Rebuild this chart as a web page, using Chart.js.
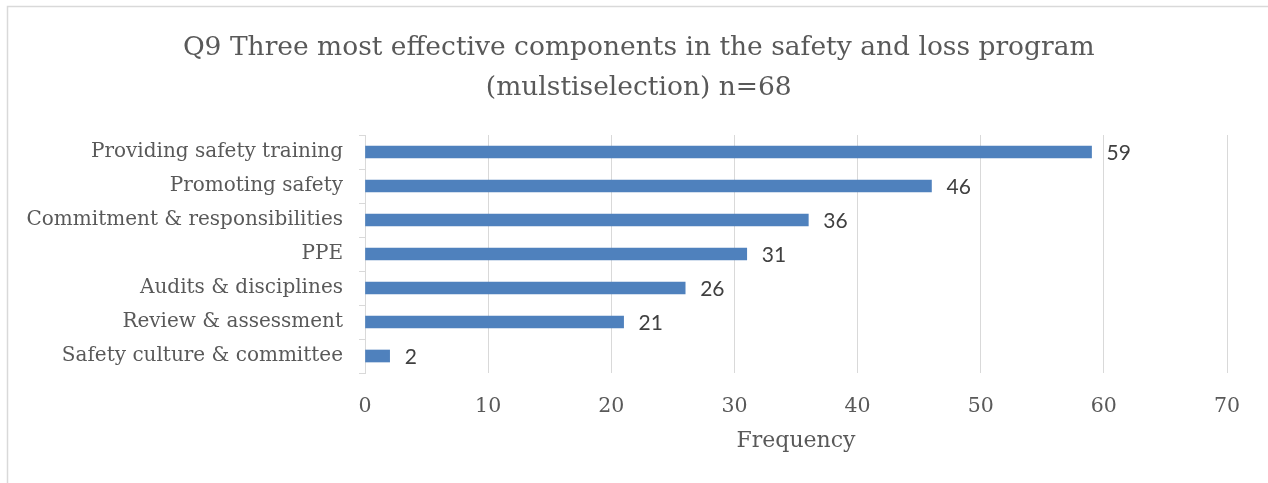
<!DOCTYPE html>
<html>
<head>
<meta charset="utf-8">
<script src="https://cdn.jsdelivr.net/npm/chart.js@4.4.1/dist/chart.umd.min.js"></script>
<style>
  html, body { margin: 0; padding: 0; background: #ffffff; }
  #wrap { width: 1268px; height: 483px; position: relative; }
</style>
</head>
<body>
<div id="wrap"><canvas id="chart" width="1268" height="483"></canvas></div>
<script>
// Survey question Q9: responses per program component
const categories = [
  'Providing safety training',
  'Promoting safety',
  'Commitment & responsibilities',
  'PPE',
  'Audits & disciplines',
  'Review & assessment',
  'Safety culture & committee'
];
const frequency = [59, 46, 36, 31, 26, 21, 2];
const xTicks = [0, 10, 20, 30, 40, 50, 60, 70];
const titleLines = [
  'Q9 Three most effective components in the safety and loss program',
  '(mulstiselection) n=68'
];
const axisTitle = 'Frequency';

const SERIF = "'DejaVu Serif', 'Liberation Serif', serif";
const SANS = "'Lato', 'Liberation Sans', sans-serif";
const TEXT = '#595959';
const GRID = '#d9d9d9';

// frame of the chart object (left and top edges visible)
const FRAME = { x: 7.5, y: 6.5 };

// light frame around the chart object
const framePlugin = {
  id: 'frame',
  beforeDraw(chart) {
    const ctx = chart.ctx;
    ctx.save();
    ctx.strokeStyle = '#d9d9d9';
    ctx.lineWidth = 1.5;
    ctx.strokeRect(FRAME.x, FRAME.y, 1400, 700);
    ctx.restore();
  }
};

// two-line title, centred on the frame rather than the plot
const titlePlugin = {
  id: 'frameTitle',
  afterDraw(chart) {
    const ctx = chart.ctx;
    const size = 26.5;
    const lineH = size * 1.5;
    const cx = (FRAME.x + chart.width) / 2 + 1;
    ctx.save();
    ctx.font = size + 'px ' + SERIF;
    ctx.fillStyle = TEXT;
    ctx.textAlign = 'center';
    ctx.textBaseline = 'middle';
    titleLines.forEach((line, i) => {
      ctx.fillText(line, cx, 28 + lineH / 2 + i * lineH);
    });
    ctx.restore();
  }
};

// value labels to the right of each bar
const valueLabels = {
  id: 'valueLabels',
  afterDatasetsDraw(chart) {
    const ctx = chart.ctx;
    const meta = chart.getDatasetMeta(0);
    ctx.save();
    ctx.font = '21px ' + SANS;
    ctx.fillStyle = '#404040';
    ctx.textAlign = 'left';
    ctx.textBaseline = 'middle';
    meta.data.forEach((bar, i) => {
      ctx.fillText(String(frequency[i]), bar.x + 15, bar.y + 1);
    });
    ctx.restore();
  }
};

new Chart(document.getElementById('chart'), {
  type: 'bar',
  data: {
    labels: categories,
    datasets: [{
      data: frequency,
      backgroundColor: '#4f81bd',
      borderWidth: 0,
      barThickness: 12
    }]
  },
  options: {
    indexAxis: 'y',
    responsive: false,
    animation: false,
    layout: { padding: { left: 0, right: 41, top: 135, bottom: 0 } },
    plugins: {
      legend: { display: false },
      tooltip: { enabled: false },
      title: { display: false }
    },
    scales: {
      x: {
        type: 'linear',
        min: 0,
        max: 70,
        afterBuildTicks(scale) { scale.ticks = xTicks.map(v => ({ value: v })); },
        afterFit(scale) { scale.height = 110; },
        grid: { color: GRID, lineWidth: 1, drawTicks: false },
        border: { display: false },
        ticks: {
          color: TEXT,
          padding: 21,
          font: { family: SERIF, size: 20.5 }
        },
        title: {
          display: true,
          text: axisTitle,
          color: TEXT,
          font: { family: SERIF, size: 22 },
          padding: { top: 0, bottom: 29 }
        }
      },
      y: {
        afterFit(scale) { scale.width = 365; },
        grid: {
          color: GRID,
          drawOnChartArea: false,
          drawTicks: true,
          tickLength: 6,
          offset: true
        },
        border: { display: true, color: GRID, width: 1 },
        ticks: {
          color: TEXT,
          padding: 16,
          font: { family: SERIF, size: 20 }
        }
      }
    }
  },
  plugins: [framePlugin, titlePlugin, valueLabels]
});
</script>
</body>
</html>
